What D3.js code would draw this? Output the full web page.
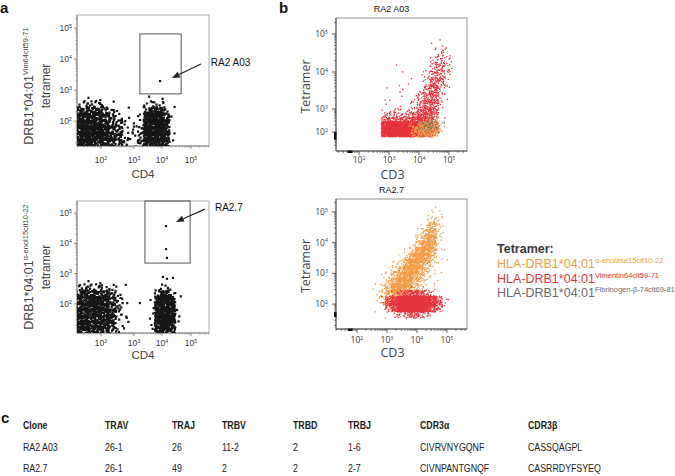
<!DOCTYPE html>
<html>
<head>
<meta charset="utf-8">
<script src="https://cdn.jsdelivr.net/npm/d3@7"></script>
<style>
  body { margin: 0; background: #fff; }
  svg { display: block; }
</style>
</head>
<body>
<script>
// flow data is kept in log10 units; density grids are read off the dot plots,
// one digit per 0.2 decade cell (0 = empty .. 9 = solid), rows listed top -> bottom,
// the last row sits at the grid origin.
var cellStep = 0.2;

// a, top : CD4 vs DRB1*04:01 Vim64cit59-71 tetramer
var a1Origin = [1.2, 1.2];
var a1Cells = [
  "0121100000012100000000",
  "3454321000134310000000",
  "7777642100168851000000",
  "8888754211299971000000",
  "9999865321399982000000",
  "9999876321499982000000",
  "9999876432599982000000",
  "9999876433599982000000"
];
var a1Events = [[3.93, 3.29]];
var a1GateX = [3.21, 4.66], a1GateY = [2.88, 4.81];
var a1Arrow = [[5.34, 3.84], [4.34, 3.39]];

// a, bottom : CD4 vs DRB1*04:01 a-enol15cit10-22 tetramer
var a2Origin = [1.2, 1.0];
var a2Cells = [
  "0121100000000000000000",
  "3454431000000241000000",
  "6777763100000685000000",
  "8888874100002999200000",
  "8888874100002999200000",
  "8888874200002999200000",
  "8888873100002999200000",
  "8888873100002999200000",
  "7777762000001888100000"
];
var a2Events = [[4.14, 4.57], [4.14, 3.81], [4.17, 3.52], [2.75, 2.63], [3.21, 2.03],
                [2.78, 1.54], [4.03, 2.89], [4.38, 2.86], [4.17, 2.83]];
var a2GateX = [3.39, 4.97], a2GateY = [3.35, 5.4];
var a2Arrow = [[5.48, 5.13], [4.48, 4.71]];

// b, top : RA2 A03, CD3 vs tetramer
var b1Origin = [2.6, 1.6];
var b1Red = [
  "0000000000100",
  "0000000001110",
  "0000000001321",
  "0000000012431",
  "0010000014531",
  "0001001125521",
  "0100010136520",
  "0001101256310",
  "0101112466210",
  "0111112566210",
  "0222233565100",
  "0333344664100",
  "0555566763000",
  "0999999986000",
  "0999999994000",
  "0888888873000",
  "0000000000000"
];
var b1Orange = [
  "0000000011000",
  "0000000243100",
  "0000003676200",
  "0000015787300",
  "0000014565100",
  "0000000000000"
];
var b1Grey = [
  "0000000011000",
  "0000000233100",
  "0000000354200",
  "0000000343100",
  "0000000121000",
  "0000000000000"
];
var b1PileX = [1.62, 1.78], b1PileY = [1.6, 2.0];

// b, bottom : RA2.7
var b2Origin = [2.6, 1.6];
var b2Orange = [
  "0000000001100",
  "0000000012210",
  "0000000014310",
  "0000000137310",
  "0000001268310",
  "0000001479210",
  "0000012698210",
  "0000125996110",
  "0001248985110",
  "0012489862110",
  "0124799741100",
  "0136998631100",
  "1258996421100",
  "2479975321100",
  "2468764321000",
  "2456543211000",
  "1234332110000",
  "0111111000000"
];
var b2Red = [
  "0000011100000",
  "0002456542000",
  "0257899987520",
  "0146899986410",
  "0002345431000"
];
var b2PileX = [1.7, 1.85], b2PileY = [1.58, 1.74];

var tickExp = [2, 3, 4, 5];

var legendTitle = "Tetramer:";
var legendBase = "HLA-DRB1*04:01";
var legendSup = ["\u03b1-enolase15cit10-22", "Vimentin64cit59-71", "Fibrinogen-\u03b2-74cit69-81"];

var tableCols = ["Clone", "TRAV", "TRAJ", "TRBV", "TRBD", "TRBJ", "CDR3\u03b1", "CDR3\u03b2"];
var tableRows = [
  ["RA2 A03", "26-1", "26", "11-2", "2", "1-6", "CIVRVNYGQNF", "CASSQAGPL"],
  ["RA2.7", "26-1", "49", "2", "2", "2-7", "CIVNPANTGNQF", "CASRRDYFSYEQ"]
];

// ---- drawing ----
var W = 675, H = 476;
var sans = "Liberation Sans, Arial, sans-serif";
var bfont = "Open Sans, DejaVu Sans, sans-serif";
var colOrange = "#f39c45", colRed = "#e6323b", colGrey = "#6b6b6b";

var svg = d3.select("body").append("svg").attr("width", W).attr("height", H);
var defs = svg.append("defs");

function p10(v) { return Math.pow(10, v); }

function halton(i, b) {
  var f = 1, r = 0;
  while (i > 0) { f /= b; r += f * (i % b); i = Math.floor(i / b); }
  return r;
}

// turn a density grid into a path of small squares, spread inside each cell
function cellsPath(rows, origin, sx, sy, k, size) {
  var p = "", idx = 1, n = rows.length;
  rows.forEach(function(row, r) {
    var ly0 = origin[1] + (n - 1 - r) * cellStep;
    for (var c = 0; c < row.length; c++) {
      var d = +row[c];
      if (!d) continue;
      var cnt = Math.max(1, Math.round(k * d * d));
      var lx0 = origin[0] + c * cellStep;
      for (var j = 0; j < cnt; j++, idx++) {
        var x = sx(p10(lx0 + (halton(idx, 2) * 1.6 - 0.3) * cellStep));
        var y = sy(p10(ly0 + (halton(idx, 3) * 1.6 - 0.3) * cellStep));
        p += "M" + (x - size / 2).toFixed(1) + "," + (y - size / 2).toFixed(1) +
             "h" + size + "v" + size + "h" + (-size) + "z";
      }
    }
  });
  return p;
}

function powLabel(t, e, fs) {
  t.append("tspan").text("10");
  t.append("tspan").attr("dy", -fs * 0.4).attr("font-size", fs * 0.62).text(e);
}

function drawAxes(g, pl) {
  var b = pl.box;
  g.append("rect").attr("x", b.l).attr("y", b.t).attr("width", b.r - b.l).attr("height", b.b - b.t)
    .attr("fill", "none").attr("stroke", pl.frame).attr("stroke-width", 0.8);
  g.append("line").attr("x1", b.l).attr("x2", b.l).attr("y1", b.t).attr("y2", b.b)
    .attr("stroke", pl.axis).attr("stroke-width", 0.8);
  g.append("line").attr("x1", b.l).attr("x2", b.r).attr("y1", b.b).attr("y2", b.b)
    .attr("stroke", pl.axis).attr("stroke-width", 0.8);

  var minor = [];
  for (var e = 1; e <= 5; e++) for (var m = 2; m <= 9; m++) minor.push(Math.log10(m) + e);
  minor.forEach(function(v) {
    var x = pl.sx(p10(v)), y = pl.sy(p10(v));
    if (x > b.l && x < b.r)
      g.append("line").attr("x1", x).attr("x2", x).attr("y1", b.b).attr("y2", b.b + pl.minorLen)
        .attr("stroke", pl.axis).attr("stroke-width", 0.6);
    if (y > b.t && y < b.b)
      g.append("line").attr("x1", b.l).attr("x2", b.l - pl.minorLen).attr("y1", y).attr("y2", y)
        .attr("stroke", pl.axis).attr("stroke-width", 0.6);
  });
  tickExp.forEach(function(e) {
    var x = pl.sx(p10(e)), y = pl.sy(p10(e));
    g.append("line").attr("x1", x).attr("x2", x).attr("y1", b.b).attr("y2", b.b + pl.tickLen)
      .attr("stroke", pl.axis).attr("stroke-width", 0.8);
    g.append("line").attr("x1", b.l).attr("x2", b.l - pl.tickLen).attr("y1", y).attr("y2", y)
      .attr("stroke", pl.axis).attr("stroke-width", 0.8);
    var tx = g.append("text").attr("x", x).attr("y", b.b + pl.xLabDy)
      .attr("text-anchor", "middle").attr("font-family", pl.font).attr("font-size", 8.5)
      .attr("fill", "#3a3a3a");
    powLabel(tx, e, 8.5);
    var ty = g.append("text").attr("x", b.l - pl.yLabDx).attr("y", y + 3)
      .attr("text-anchor", "end").attr("font-family", pl.font).attr("font-size", 8.5)
      .attr("fill", "#3a3a3a");
    powLabel(ty, e, 8.5);
  });
}

function clipFor(id, b) {
  defs.append("clipPath").attr("id", id).append("rect")
    .attr("x", b.l).attr("y", b.t).attr("width", b.r - b.l).attr("height", b.b - b.t);
  return "url(#" + id + ")";
}

function arrow(g, pl, a, label) {
  var x1 = pl.sx(p10(a[0][0])), y1 = pl.sy(p10(a[0][1]));
  var x2 = pl.sx(p10(a[1][0])), y2 = pl.sy(p10(a[1][1]));
  var ang = Math.atan2(y2 - y1, x2 - x1), hl = 8, hw = 3.2;
  var bx = x2 - hl * Math.cos(ang), by = y2 - hl * Math.sin(ang);
  g.append("line").attr("x1", x1).attr("y1", y1).attr("x2", bx).attr("y2", by)
    .attr("stroke", "#222").attr("stroke-width", 1.2);
  g.append("path").attr("fill", "#222")
    .attr("d", "M" + x2 + "," + y2 +
      "L" + (bx + hw * Math.sin(ang)) + "," + (by - hw * Math.cos(ang)) +
      "L" + (bx - hw * Math.sin(ang)) + "," + (by + hw * Math.cos(ang)) + "Z");
  g.append("text").attr("x", x1 + 10).attr("y", y1 + 2)
    .attr("font-family", sans).attr("font-size", 10).attr("fill", "#111").text(label);
}

// ---- panel a ----
var aX = [p10(2), p10(3), p10(4), p10(5)], aXr = [101, 134, 162, 191];
var plotA1 = {
  box: {l: 77, r: 209, t: 15, b: 146},
  sx: d3.scaleLog().domain(aX).range(aXr),
  sy: d3.scaleLog().domain([p10(1.2), p10(5.42)]).range([146, 15]),
  frame: "#9a9a9a", axis: "#777", tickLen: 3, minorLen: 1.5, xLabDy: 17, yLabDx: 5, font: sans,
  labelY: 86, cdY: 178
};
var plotA2 = {
  box: {l: 77, r: 209, t: 201, b: 333},
  sx: d3.scaleLog().domain(aX).range(aXr),
  sy: d3.scaleLog().domain([p10(1.04), p10(5.4)]).range([333, 201]),
  frame: "#9a9a9a", axis: "#777", tickLen: 3, minorLen: 1.5, xLabDy: 13, yLabDx: 5, font: sans,
  labelY: 267, cdY: 359
};

[[plotA1, a1Cells, a1Origin, a1Events, a1GateX, a1GateY, a1Arrow, "RA2 A03", "Vim64cit59-71"],
 [plotA2, a2Cells, a2Origin, a2Events, a2GateX, a2GateY, a2Arrow, "RA2.7", "\u03b1-enol15cit10-22"]]
.forEach(function(d, i) {
  var pl = d[0], b = pl.box;
  var g = svg.append("g");
  drawAxes(g, pl);
  var dots = g.append("g").attr("clip-path", clipFor("clipA" + i, b));
  dots.append("path").attr("fill", "#161616")
    .attr("d", cellsPath(d[1], d[2], pl.sx, pl.sy, 0.37, 2.2));
  dots.selectAll("rect.ev").data(d[3]).join("rect").attr("class", "ev")
    .attr("x", function(e) { return pl.sx(p10(e[0])) - 1.1; })
    .attr("y", function(e) { return pl.sy(p10(e[1])) - 1.1; })
    .attr("width", 2.2).attr("height", 2.2).attr("fill", "#161616");
  g.append("rect")
    .attr("x", pl.sx(p10(d[4][0]))).attr("y", pl.sy(p10(d[5][1])))
    .attr("width", pl.sx(p10(d[4][1])) - pl.sx(p10(d[4][0])))
    .attr("height", pl.sy(p10(d[5][0])) - pl.sy(p10(d[5][1])))
    .attr("fill", "none").attr("stroke", "#555").attr("stroke-width", 1);
  arrow(g, pl, d[6], d[7]);

  var yl = g.append("text").attr("transform", "translate(33," + pl.labelY + ") rotate(-90)")
    .attr("text-anchor", "middle").attr("font-family", sans).attr("fill", "#444");
  yl.append("tspan").attr("font-size", 12.5).text("DRB1*04:01");
  yl.append("tspan").attr("font-size", 7.5).attr("dy", -5).text(d[8]);
  g.append("text").attr("transform", "translate(50," + pl.labelY + ") rotate(-90)")
    .attr("text-anchor", "middle").attr("font-family", sans).attr("font-size", 12)
    .attr("fill", "#444").text("tetramer");
  g.append("text").attr("x", (b.l + b.r) / 2).attr("y", pl.cdY)
    .attr("text-anchor", "middle").attr("font-family", sans).attr("font-size", 11.5)
    .attr("fill", "#444").text("CD4");
});

// ---- panel b ----
var plotB1 = {
  box: {l: 336, r: 467, t: 18, b: 151},
  sx: d3.scaleLog().domain([p10(1.23), p10(5.6)]).range([336, 467]),
  sy: d3.scaleLog().domain([p10(1), p10(2), p10(3), p10(4), p10(5), p10(5.42)])
        .range([151, 132, 109, 72, 34, 18]),
  frame: "#777", axis: "#333", tickLen: 4, minorLen: 2, xLabDy: 12, yLabDx: 8, font: bfont
};
var plotB2 = {
  box: {l: 336, r: 467, t: 199, b: 329},
  sx: d3.scaleLog().domain([p10(1.3), p10(5.67)]).range([336, 467]),
  sy: d3.scaleLog().domain([p10(1.19), p10(5.42)]).range([329, 199]),
  frame: "#777", axis: "#333", tickLen: 4, minorLen: 2, xLabDy: 14, yLabDx: 8, font: bfont
};

// populations in drawing order: grid, colour, dots per density^2, opacity
[[plotB1, "RA2 A03", [[b1Red, colRed, 0.9, 1], [b1Orange, colOrange, 0.8, 1], [b1Grey, colGrey, 0.6, 0.75]],
  b1Origin, b1PileX, b1PileY],
 [plotB2, "RA2.7", [[b2Orange, colOrange, 0.62, 1], [b2Red, colRed, 1.45, 1]],
  b2Origin, b2PileX, b2PileY]]
.forEach(function(d, i) {
  var pl = d[0], b = pl.box;
  var g = svg.append("g");
  var dots = g.append("g").attr("clip-path", clipFor("clipB" + i, b));
  d[2].forEach(function(pop) {
    dots.append("path").attr("fill", pop[1]).attr("fill-opacity", pop[3])
      .attr("d", cellsPath(pop[0], d[3], pl.sx, pl.sy, pop[2], 1.3));
  });
  drawAxes(g, pl);
  // events piled on the axes
  g.append("rect").attr("x", b.l - 2).attr("width", 2.5)
    .attr("y", pl.sy(p10(d[5][1]))).attr("height", pl.sy(p10(d[5][0])) - pl.sy(p10(d[5][1])))
    .attr("fill", "#111");
  g.append("rect").attr("y", b.b - 0.5).attr("height", 2.5)
    .attr("x", pl.sx(p10(d[4][0]))).attr("width", pl.sx(p10(d[4][1])) - pl.sx(p10(d[4][0])))
    .attr("fill", "#111");

  g.append("text").attr("x", (b.l + b.r) / 2 - 10).attr("y", b.t - 6)
    .attr("text-anchor", "middle").attr("font-family", sans).attr("font-size", 9)
    .attr("fill", "#111").text(d[1]);
  g.append("text").attr("transform", "translate(310," + ((b.t + b.b) / 2 + 2) + ") rotate(-90)")
    .attr("text-anchor", "middle").attr("font-family", bfont).attr("font-size", 12.5)
    .attr("fill", "#444").text("Tetramer");
  g.append("text").attr("x", (b.l + b.r) / 2 - 9).attr("y", b.b + 28)
    .attr("text-anchor", "middle").attr("font-family", bfont).attr("font-size", 12.5)
    .attr("fill", "#444").text("CD3");
});

// ---- legend ----
var lg = svg.append("g").attr("font-family", sans);
lg.append("text").attr("x", 497).attr("y", 253).attr("font-size", 12.5)
  .attr("font-weight", "bold").attr("fill", "#3a3a3a").text(legendTitle);
[colOrange, colRed, colGrey].forEach(function(c, i) {
  var t = lg.append("text").attr("x", 497).attr("y", 268 + i * 14.5).attr("fill", c);
  t.append("tspan").attr("font-size", 12.5).text(legendBase);
  t.append("tspan").attr("font-size", 7.5).attr("dy", -5).text(legendSup[i]);
});

// ---- panel labels ----
[["a", 0, 13], ["b", 279, 13], ["c", 1, 423]].forEach(function(p) {
  svg.append("text").attr("x", p[1]).attr("y", p[2]).attr("font-family", sans)
    .attr("font-size", 15).attr("font-weight", "bold").attr("fill", "#111").text(p[0]);
});

// ---- table c ----
var colX = [23, 105, 172, 222, 293, 348, 420, 528];
var rowY = [429, 451, 472];
var tg = svg.append("g").attr("font-family", sans).attr("font-size", 11).attr("fill", "#222");
function cell(txt, x, y, bold) {
  tg.append("text").attr("transform", "translate(" + x + "," + y + ") scale(0.8,1)")
    .attr("font-weight", bold ? "bold" : null).text(txt);
}
tableCols.forEach(function(c, j) { cell(c, colX[j], rowY[0], true); });
tableRows.forEach(function(r, i) {
  r.forEach(function(v, j) { cell(v, colX[j], rowY[i + 1], false); });
});
</script>
</body>
</html>
